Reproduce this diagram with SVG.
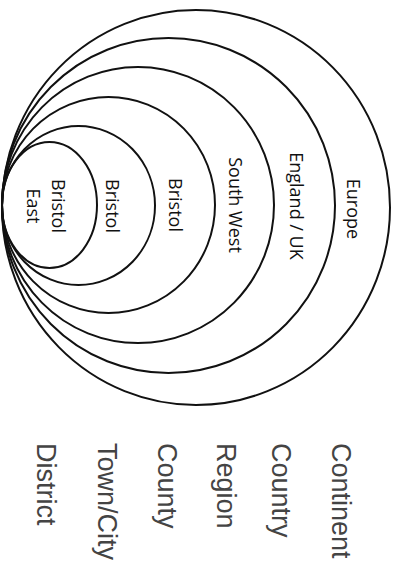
<svg xmlns="http://www.w3.org/2000/svg" width="402" height="567" viewBox="0 0 402 567">
<style>
.ring{fill:none;stroke:#111;stroke-width:2}
.in{font-family:"Open Sans","Noto Sans",sans-serif;font-size:18px;fill:#111;text-anchor:middle}
.lv{font-family:"Liberation Sans",Arial,sans-serif;font-size:27px;fill:#444}
</style>
<rect width="402" height="567" fill="#fff"/>
<g id="rings">
<g id="continent"><ellipse class="ring" cx="196" cy="207.5" rx="194" ry="197.5"/><text class="in" transform="translate(347,209) rotate(90)">Europe</text></g>
<g id="country"><ellipse class="ring" cx="168.5" cy="205.5" rx="166.5" ry="167.5"/><text class="in" transform="translate(290,206) rotate(90)">England / UK</text></g>
<g id="region"><ellipse class="ring" cx="138" cy="205" rx="136" ry="138"/><text class="in" transform="translate(229,205) rotate(90)">South West</text></g>
<g id="county"><ellipse class="ring" cx="108.5" cy="205" rx="106.5" ry="108"/><text class="in" transform="translate(169,205) rotate(90)">Bristol</text></g>
<g id="town"><ellipse class="ring" cx="78.5" cy="205.5" rx="76.5" ry="79.5"/><text class="in" transform="translate(106,206) rotate(90)">Bristol</text></g>
<g id="district"><ellipse class="ring" cx="49.5" cy="205" rx="47.5" ry="63"/><text class="in" transform="translate(52,206) rotate(90)">Bristol</text><text class="in" transform="translate(27,206) rotate(90)">East</text></g>
</g>
<g id="levels">
<text class="lv" transform="translate(332,443) rotate(90)">Continent</text>
<text class="lv" transform="translate(272,443) rotate(90)">Country</text>
<text class="lv" transform="translate(217,443) rotate(90)">Region</text>
<text class="lv" transform="translate(158,443) rotate(90)">County</text>
<text class="lv" transform="translate(98,443) rotate(90)">Town/City</text>
<text class="lv" transform="translate(37,443) rotate(90)">District</text>
</g>
</svg>
